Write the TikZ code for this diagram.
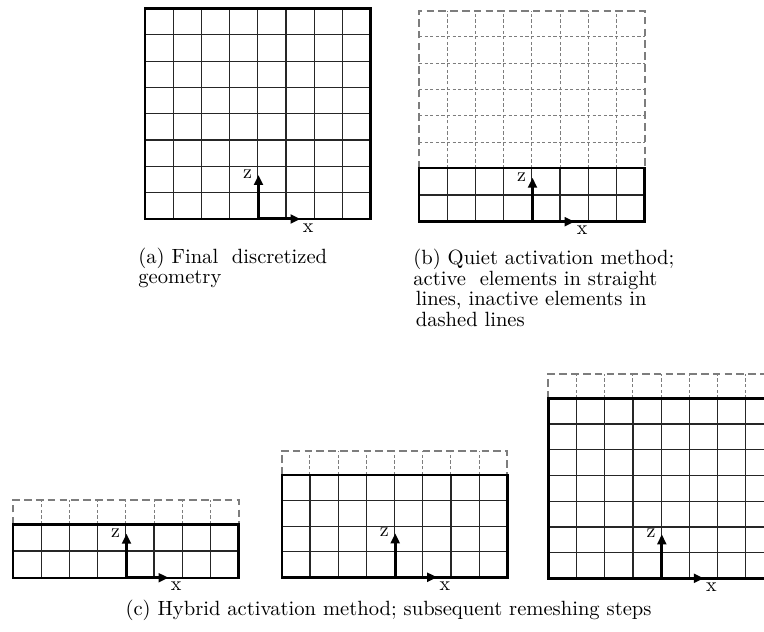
\documentclass[tikz,border=0pt]{standalone}
\usepackage{tikz}
\usetikzlibrary{arrows.meta, positioning, calc}
\definecolor{idlegray}{RGB}{125,125,125}
\tikzset{
    % Active elements
    meshline/.style={line width=0.6pt, black!85},
    meshframe/.style={line width=1.2pt, black},
    % Inactive elements
    idleline/.style={line width=0.45pt, idlegray, dash pattern=on 1.6pt off 1.2pt},
    idleframe/.style={line width=1pt, idlegray, dash pattern=on 3.8pt off 2.1pt},
    % Axes
    axisarrow/.style={{Triangle[length=5pt, width=4.4pt]}-{Triangle[length=5pt, width=4.4pt]},
                line width=1.5pt},
    axislbl/.style={font=\fontsize{10}{10}\selectfont, inner sep=0pt},
    % Captions
    capt/.style={font=\fontsize{10.3}{10.3}\selectfont, inner sep=0pt, align=left},
}
\newcommand{\colw}{28.2}
% #1 name, #2 left, #3 bottom, #4 active rows, #5 active row height,
% #6 inactive rows, #7 inactive row height
\newcommand{\meshblock}[7]{%
  \pgfmathsetmacro{\acttop}{#3+#4*#5}
  \pgfmathsetmacro{\idletop}{\acttop+#6*#7}
  \pgfmathtruncatemacro{\lastact}{#4-1}
  % inactive rows
  \ifnum#6>0
    \foreach \c in {1,...,7}
      \draw[idleline] ({#2+\c*\colw},\acttop) -- ({#2+\c*\colw},\idletop);
    \ifnum#6>1
      \pgfmathtruncatemacro{\lastidle}{#6-1}
      \foreach \r in {1,...,\lastidle}
        \draw[idleline] (#2,{\acttop+\r*#7}) -- ({#2+8*\colw},{\acttop+\r*#7});
    \fi
    \draw[idleframe] (#2,\acttop) -- (#2,\idletop) -- ({#2+8*\colw},\idletop)
      -- ({#2+8*\colw},\acttop);
  \fi
  % active rows
  \foreach \c in {1,...,7}
    \draw[meshline] ({#2+\c*\colw},#3) -- ({#2+\c*\colw},\acttop);
  \foreach \r in {1,...,\lastact}
    \draw[meshline] (#2,{#3+\r*#5}) -- ({#2+8*\colw},{#3+\r*#5});
  \draw[meshframe] (#2,#3) rectangle ({#2+8*\colw},\acttop);
  % axes
  \coordinate (#1-o) at ({#2+4*\colw+0.7},#3);
  \coordinate (#1-z) at ($(#1-o)+(0,44)$);
  \coordinate (#1-x) at ($(#1-o)+(42,0)$);
  \draw[axisarrow] (#1-z) -- (#1-o) -- (#1-x);
  \node[axislbl, anchor=east] (#1-zl) at ($(#1-z)+(-6,1)$) {z};
  \node[axislbl, anchor=north west] (#1-xl) at ($(#1-x)+(2,-4)$) {x};
}

\begin{document}
\begin{tikzpicture}[x=0.5pt, y=0.5pt]
\useasboundingbox (0,0) rectangle (764,631);
\clip (0,0) rectangle (764,631);

% (a) final geometry
\meshblock{fin}{145}{412}{8}{26.3}{0}{26.3}
% (b) quiet activation
\meshblock{qui}{419}{409.3}{2}{26.7}{6}{26.27}
% (c) hybrid activation, remeshing steps
\meshblock{hyA}{13}{53.3}{2}{26.7}{1}{24.3}
\meshblock{hyB}{281.7}{53.7}{4}{25.6}{1}{24.3}
\meshblock{hyC}{548.3}{52.7}{7}{25.7}{1}{24.3}

\node[capt, anchor=base west] (capa) at (138,347) {(a) Final~ discretized\\geometry};
\node[capt, anchor=base west] (capb) at (413,304.5)
  {(b) Quiet activation method;\\active~ elements in straight\\
   \hspace*{1.2pt}lines, inactive elements in\\\hspace*{1.2pt}dashed lines};
\node[capt, anchor=base] (capc) at (388.5,15.3)
  {(c) Hybrid activation method; subsequent remeshing steps};
\end{tikzpicture}
\end{document}
